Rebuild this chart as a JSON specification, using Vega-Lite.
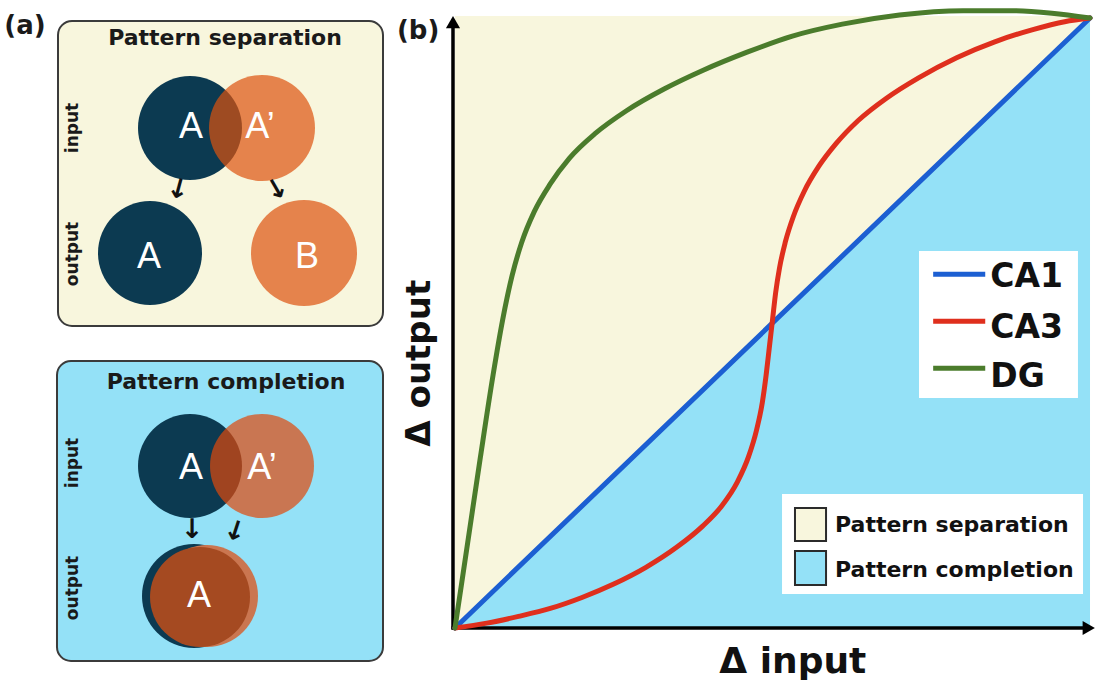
{
  "$schema": "https://vega.github.io/schema/vega-lite/v6.json",
  "background": "white",
  "padding": 0,
  "spacing": 0,
  "bounds": "flush",
  "config": {"view": {"stroke": null}, "font": "DejaVu Sans"},
  "datasets": {
    "boxes": [
      {"kind": "separation", "x": 58, "x2": 383, "y": 20, "y2": 325},
      {"kind": "completion", "x": 57, "x2": 383, "y": 360, "y2": 660}
    ],
    "circles": [
      {"id": "navy", "x": 190, "y": 127},
      {"id": "navy", "x": 150, "y": 252},
      {"id": "navy", "x": 190, "y": 465},
      {"id": "navy", "x": 194, "y": 595},
      {"id": "sepA2", "x": 262, "y": 127},
      {"id": "compA2", "x": 262, "y": 465},
      {"id": "B", "x": 304, "y": 252},
      {"id": "outLight", "x": 207, "y": 595},
      {"id": "outBrown", "x": 200, "y": 596}
    ],
    "letters": [
      {"t": "A", "x": 191, "y": 126},
      {"t": "A’", "x": 260, "y": 126},
      {"t": "A", "x": 149, "y": 256},
      {"t": "B", "x": 307, "y": 256},
      {"t": "A", "x": 191, "y": 467},
      {"t": "A’", "x": 262, "y": 467},
      {"t": "A", "x": 199, "y": 595}
    ],
    "arrows": [
      {"x": 178, "y": 189, "deg": 15},
      {"x": 277, "y": 189, "deg": -30},
      {"x": 192, "y": 529, "deg": 0},
      {"x": 235, "y": 531, "deg": 18}
    ],
    "titlesA": [
      {"t": "Pattern separation", "x": 225, "y": 37},
      {"t": "Pattern completion", "x": 226, "y": 381}
    ],
    "sideA": [
      {"t": "input", "x": 73, "y": 127},
      {"t": "output", "x": 73, "y": 253},
      {"t": "input", "x": 73, "y": 462},
      {"t": "output", "x": 73, "y": 587}
    ],
    "panelA": [{"t": "(a)", "x": 25, "y": 25}],
    "yellow": [{"x": 0, "x2": 1, "y": 0, "y2": 1.0033}],
    "triangle": [{"x": 0, "y": 0}, {"x": 1, "y": 1}],
    "axes": [
      {"x": -0.00315, "x2": -0.00315, "y": -0.0025, "y2": 0.99},
      {"x": -0.0055, "x2": 0.995, "y": 0, "y2": 0}
    ],
    "heads": [
      {"dir": "up", "x": -0.00315, "y": 0.9934},
      {"dir": "right", "x": 0.998, "y": 0}
    ],
    "curves": [
      {"s": "CA1", "x": 0, "y": 0},
      {"s": "CA1", "x": 1, "y": 1},
      {"s": "CA3", "x": 0, "y": 0},
      {"s": "CA3", "x": 0.05, "y": 0.008},
      {"s": "CA3", "x": 0.1, "y": 0.019},
      {"s": "CA3", "x": 0.15, "y": 0.032},
      {"s": "CA3", "x": 0.2, "y": 0.05},
      {"s": "CA3", "x": 0.25, "y": 0.072},
      {"s": "CA3", "x": 0.3, "y": 0.099},
      {"s": "CA3", "x": 0.35, "y": 0.133},
      {"s": "CA3", "x": 0.39, "y": 0.167},
      {"s": "CA3", "x": 0.42, "y": 0.2},
      {"s": "CA3", "x": 0.445, "y": 0.24},
      {"s": "CA3", "x": 0.462, "y": 0.28},
      {"s": "CA3", "x": 0.475, "y": 0.325},
      {"s": "CA3", "x": 0.484, "y": 0.37},
      {"s": "CA3", "x": 0.49, "y": 0.415},
      {"s": "CA3", "x": 0.495, "y": 0.46},
      {"s": "CA3", "x": 0.5, "y": 0.505},
      {"s": "CA3", "x": 0.505, "y": 0.55},
      {"s": "CA3", "x": 0.511, "y": 0.59},
      {"s": "CA3", "x": 0.52, "y": 0.632},
      {"s": "CA3", "x": 0.533, "y": 0.675},
      {"s": "CA3", "x": 0.55, "y": 0.716},
      {"s": "CA3", "x": 0.573, "y": 0.757},
      {"s": "CA3", "x": 0.6, "y": 0.794},
      {"s": "CA3", "x": 0.635, "y": 0.832},
      {"s": "CA3", "x": 0.68, "y": 0.869},
      {"s": "CA3", "x": 0.73, "y": 0.902},
      {"s": "CA3", "x": 0.79, "y": 0.935},
      {"s": "CA3", "x": 0.85, "y": 0.961},
      {"s": "CA3", "x": 0.91, "y": 0.981},
      {"s": "CA3", "x": 0.96, "y": 0.994},
      {"s": "CA3", "x": 1, "y": 1},
      {"s": "DG", "x": 0, "y": 0},
      {"s": "DG", "x": 0.02, "y": 0.14},
      {"s": "DG", "x": 0.04, "y": 0.28},
      {"s": "DG", "x": 0.06, "y": 0.415},
      {"s": "DG", "x": 0.075, "y": 0.505},
      {"s": "DG", "x": 0.09, "y": 0.578},
      {"s": "DG", "x": 0.105, "y": 0.632},
      {"s": "DG", "x": 0.125, "y": 0.683},
      {"s": "DG", "x": 0.15, "y": 0.728},
      {"s": "DG", "x": 0.18, "y": 0.77},
      {"s": "DG", "x": 0.22, "y": 0.81},
      {"s": "DG", "x": 0.27, "y": 0.848},
      {"s": "DG", "x": 0.33, "y": 0.884},
      {"s": "DG", "x": 0.39, "y": 0.914},
      {"s": "DG", "x": 0.46, "y": 0.944},
      {"s": "DG", "x": 0.53, "y": 0.97},
      {"s": "DG", "x": 0.61, "y": 0.99},
      {"s": "DG", "x": 0.7, "y": 1.005},
      {"s": "DG", "x": 0.8, "y": 1.012},
      {"s": "DG", "x": 0.88, "y": 1.012},
      {"s": "DG", "x": 0.94, "y": 1.008},
      {"s": "DG", "x": 1, "y": 1}
    ],
    "legendBox": [
      {"x": 0.7307, "x2": 0.981, "y": 0.377, "y2": 0.618},
      {"x": 0.515, "x2": 0.989, "y": 0.0557, "y2": 0.2197}
    ],
    "legendLines": [
      {"s": "CA1", "x": 0.753, "x2": 0.835, "y": 0.58, "ty": 0.575},
      {"s": "CA3", "x": 0.753, "x2": 0.835, "y": 0.503, "ty": 0.492},
      {"s": "DG", "x": 0.753, "x2": 0.835, "y": 0.426, "ty": 0.411}
    ],
    "legendSquares": [
      {"t": "Pattern separation", "x": 0.5354, "x2": 0.5843, "y": 0.1426, "y2": 0.1967, "ty": 0.169},
      {"t": "Pattern completion", "x": 0.5354, "x2": 0.5843, "y": 0.0705, "y2": 0.1262, "ty": 0.095}
    ],
    "panelB": [{"t": "(b)", "x": -0.058, "y": 0.979}],
    "yTitle": [{"t": "Δ output", "x": -0.055, "y": 0.434}],
    "xTitle": [{"t": "Δ input", "x": 0.532, "y": -0.074}]
  },
  "hconcat": [
    {
      "width": 400,
      "height": 682,
      "encoding": {
        "x": {"field": "x", "type": "quantitative", "scale": {"domain": [0, 400], "nice": false, "zero": false}, "axis": null},
        "y": {"field": "y", "type": "quantitative", "scale": {"domain": [0, 682], "reverse": true, "nice": false, "zero": false}, "axis": null}
      },
      "layer": [
        {
          "data": {"name": "boxes"},
          "mark": {"type": "rect", "cornerRadius": 14, "stroke": "#3b3b3b", "strokeWidth": 2},
          "encoding": {
            "x2": {"field": "x2"},
            "y2": {"field": "y2"},
            "fill": {"field": "kind", "type": "nominal", "scale": {"domain": ["separation", "completion"], "range": ["#f8f6dd", "#94e1f7"]}, "legend": null}
          }
        },
        {
          "data": {"name": "circles"},
          "transform": [{"filter": "datum.id === 'navy'"}],
          "mark": {"type": "point", "shape": "circle", "filled": true, "size": 10816, "color": "#0c3a51", "opacity": 1, "strokeWidth": 0}
        },
        {
          "data": {"name": "circles"},
          "transform": [{"filter": "datum.id === 'sepA2'"}],
          "mark": {"type": "point", "shape": "circle", "filled": true, "size": 11236, "color": "#dd520e", "opacity": 0.7, "strokeWidth": 0}
        },
        {
          "data": {"name": "circles"},
          "transform": [{"filter": "datum.id === 'compA2'"}],
          "mark": {"type": "point", "shape": "circle", "filled": true, "size": 10816, "color": "#e0480b", "opacity": 0.7, "strokeWidth": 0}
        },
        {
          "data": {"name": "circles"},
          "transform": [{"filter": "datum.id === 'B'"}],
          "mark": {"type": "point", "shape": "circle", "filled": true, "size": 11236, "color": "#e5834c", "opacity": 1, "strokeWidth": 0}
        },
        {
          "data": {"name": "circles"},
          "transform": [{"filter": "datum.id === 'outLight'"}],
          "mark": {"type": "point", "shape": "circle", "filled": true, "size": 10404, "color": "#ca7650", "opacity": 1, "strokeWidth": 0}
        },
        {
          "data": {"name": "circles"},
          "transform": [{"filter": "datum.id === 'outBrown'"}],
          "mark": {"type": "point", "shape": "circle", "filled": true, "size": 10000, "color": "#a54a21", "opacity": 1, "strokeWidth": 0}
        },
        {
          "data": {"name": "letters"},
          "mark": {"type": "text", "font": "Liberation Sans", "fontSize": 36, "color": "white", "align": "center", "baseline": "middle"},
          "encoding": {"text": {"field": "t"}}
        },
        {
          "data": {"name": "arrows"},
          "mark": {"type": "text", "font": "DejaVu Sans", "fontWeight": "bold", "fontSize": 27, "color": "#111111", "align": "center", "baseline": "middle", "text": "↓"},
          "encoding": {"angle": {"field": "deg", "type": "quantitative", "scale": null}}
        },
        {
          "data": {"name": "titlesA"},
          "mark": {"type": "text", "font": "DejaVu Sans", "fontWeight": "bold", "fontSize": 22, "color": "#1a1a1a", "align": "center", "baseline": "middle"},
          "encoding": {"text": {"field": "t"}}
        },
        {
          "data": {"name": "sideA"},
          "mark": {"type": "text", "font": "DejaVu Sans", "fontWeight": "bold", "fontSize": 17, "color": "#1a1a1a", "align": "center", "baseline": "middle", "angle": 270},
          "encoding": {"text": {"field": "t"}}
        },
        {
          "data": {"name": "panelA"},
          "mark": {"type": "text", "font": "DejaVu Sans", "fontWeight": "bold", "fontSize": 26, "color": "#1a1a1a", "align": "center", "baseline": "middle"},
          "encoding": {"text": {"field": "t"}}
        }
      ]
    },
    {
      "width": 697,
      "height": 682,
      "encoding": {
        "x": {"field": "x", "type": "quantitative", "scale": {"domain": [-0.0866, 1.011], "nice": false, "zero": false}, "axis": null},
        "y": {"field": "y", "type": "quantitative", "scale": {"domain": [-0.0902, 1.0279], "nice": false, "zero": false}, "axis": null}
      },
      "layer": [
        {
          "data": {"name": "yellow"},
          "mark": {"type": "rect", "color": "#f8f6dd"},
          "encoding": {"x2": {"field": "x2"}, "y2": {"field": "y2"}}
        },
        {
          "data": {"name": "triangle"},
          "mark": {"type": "area", "color": "#94e1f7", "opacity": 1},
          "encoding": {"y2": {"datum": 0}}
        },
        {
          "data": {"name": "axes"},
          "mark": {"type": "rule", "color": "#000000", "strokeWidth": 3.5},
          "encoding": {"x2": {"field": "x2"}, "y2": {"field": "y2"}}
        },
        {
          "data": {"name": "heads"},
          "transform": [{"filter": "datum.dir === 'up'"}],
          "mark": {"type": "point", "shape": "triangle-up", "filled": true, "size": 200, "color": "#000000", "opacity": 1, "strokeWidth": 0}
        },
        {
          "data": {"name": "heads"},
          "transform": [{"filter": "datum.dir === 'right'"}],
          "mark": {"type": "point", "shape": "triangle-right", "filled": true, "size": 200, "color": "#000000", "opacity": 1, "strokeWidth": 0}
        },
        {
          "data": {"name": "curves"},
          "mark": {"type": "line", "strokeWidth": 5, "interpolate": "monotone", "strokeCap": "round"},
          "encoding": {
            "color": {"field": "s", "type": "nominal", "scale": {"domain": ["CA1", "CA3", "DG"], "range": ["#1c5fd2", "#df2f1d", "#4b7c2c"]}, "legend": null},
            "order": {"field": "x", "type": "quantitative"}
          }
        },
        {
          "data": {"name": "legendBox"},
          "mark": {"type": "rect", "color": "#ffffff"},
          "encoding": {"x2": {"field": "x2"}, "y2": {"field": "y2"}}
        },
        {
          "data": {"name": "legendLines"},
          "mark": {"type": "rule", "strokeWidth": 5},
          "encoding": {
            "x2": {"field": "x2"},
            "color": {"field": "s", "type": "nominal", "legend": null}
          }
        },
        {
          "data": {"name": "legendLines"},
          "mark": {"type": "text", "font": "DejaVu Sans", "fontWeight": "bold", "fontSize": 33, "color": "#111111", "align": "left", "baseline": "middle", "dx": 5},
          "encoding": {
            "x": {"field": "x2", "type": "quantitative"},
            "y": {"field": "ty", "type": "quantitative"},
            "text": {"field": "s"}
          }
        },
        {
          "data": {"name": "legendSquares"},
          "mark": {"type": "rect", "stroke": "#2b2b2b", "strokeWidth": 2},
          "encoding": {
            "x2": {"field": "x2"},
            "y2": {"field": "y2"},
            "fill": {"field": "t", "type": "nominal", "scale": {"domain": ["Pattern separation", "Pattern completion"], "range": ["#f8f6dd", "#94e1f7"]}, "legend": null}
          }
        },
        {
          "data": {"name": "legendSquares"},
          "mark": {"type": "text", "font": "DejaVu Sans", "fontWeight": "bold", "fontSize": 22, "color": "#111111", "align": "left", "baseline": "middle", "dx": 9},
          "encoding": {
            "x": {"field": "x2", "type": "quantitative"},
            "y": {"field": "ty", "type": "quantitative"},
            "text": {"field": "t"}
          }
        },
        {
          "data": {"name": "panelB"},
          "mark": {"type": "text", "font": "DejaVu Sans", "fontWeight": "bold", "fontSize": 26, "color": "#1a1a1a", "align": "center", "baseline": "middle"},
          "encoding": {"text": {"field": "t"}}
        },
        {
          "data": {"name": "yTitle"},
          "mark": {"type": "text", "font": "DejaVu Sans", "fontWeight": "bold", "fontSize": 34, "color": "#111111", "align": "center", "baseline": "middle", "angle": 270},
          "encoding": {"text": {"field": "t"}}
        },
        {
          "data": {"name": "xTitle"},
          "mark": {"type": "text", "font": "DejaVu Sans", "fontWeight": "bold", "fontSize": 36, "color": "#111111", "align": "center", "baseline": "alphabetic"},
          "encoding": {"text": {"field": "t"}}
        }
      ]
    }
  ]
}
